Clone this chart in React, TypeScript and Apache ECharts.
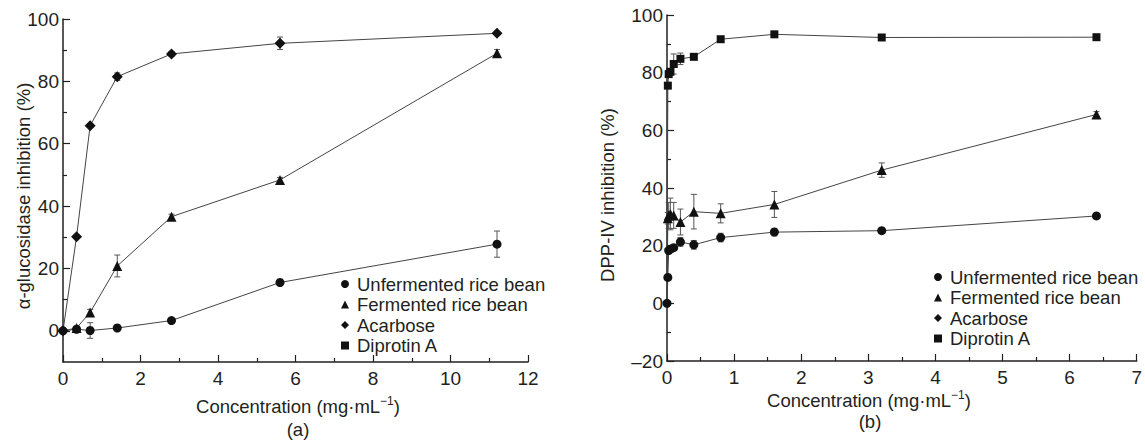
import React, { useEffect, useRef } from 'react';
import * as echarts from 'echarts';

// Panel (a): alpha-glucosidase inhibition
const concA = [0, 0.35, 0.7, 1.4, 2.8, 5.6, 11.2];
const unfermentedA = [0, 0.5, 0.1, 0.9, 3.3, 15.5, 27.8];
const unfermentedAErr = [0, 0, 2.5, 0, 0.8, 0.8, 4.2];
const fermentedA = [0, 0.9, 5.9, 20.8, 36.6, 48.4, 89];
const fermentedAErr = [0, 0, 1, 3.5, 0.8, 0.8, 1.2];
const acarboseA = [0, 30.2, 65.8, 81.5, 88.8, 92.2, 95.4];
const acarboseAErr = [0, 0.5, 0.5, 1.2, 0.8, 2, 0.5];

// Panel (b): DPP-IV inhibition
const concB = [0, 0.0125, 0.025, 0.05, 0.1, 0.2, 0.4, 0.8, 1.6, 3.2, 6.4];
const unfermentedB = [0, 9, 18.3, 18.8, 19.3, 21.3, 20.3, 22.8, 24.7, 25.2, 30.3];
const unfermentedBErr = [0, 0.5, 1, 1, 1, 1.5, 1.5, 1.5, 1.3, 0.5, 0.8];
const fermentedB = [0, 29.5, 30.5, 31, 30.5, 28.2, 31.8, 31.2, 34.3, 46.2, 65.5];
const fermentedBErr = [0, 2, 4.5, 5.5, 4.5, 4.5, 6, 3.3, 4.5, 2.5, 1];
const diprotinB = [0, 75.5, 79.5, 80.3, 83, 84.8, 85.5, 91.6, 93.3, 92.2, 92.3];
const diprotinBErr = [0, 1, 1, 1, 3.5, 2, 1, 0.8, 0.8, 0.6, 0.6];

const legendNames = ['Unfermented rice bean', 'Fermented rice bean', 'Acarbose', 'Diprotin A'];
const legendIcons = ['circle', 'triangle', 'diamond', 'rect'];

const yTicksA = [0, 20, 40, 60, 80, 100];
const yMinorTicksA = [10, 30, 50, 70, 90];

const TXT = '#231f20';
const FONT = '"Liberation Sans", Arial, sans-serif';

const pts = (xs: number[], ys: number[], hideOrigin = false) =>
  xs.map((x, i) => (hideOrigin && i === 0 ? { value: [x, ys[i]], symbol: 'none' } : [x, ys[i]]));
const errPts = (xs: number[], ys: number[], es: number[]) => xs.map((x, i) => [x, ys[i], es[i]]);

const errRender = (params: any, api: any) => {
  const x = api.value(0);
  const y = api.value(1);
  const e = api.value(2);
  if (!e) return null;
  const top = api.coord([x, y + e]);
  const bot = api.coord([x, y - e]);
  const w = 3;
  const st = { stroke: '#555', lineWidth: 1 };
  return {
    type: 'group',
    children: [
      { type: 'line', shape: { x1: top[0], y1: top[1], x2: bot[0], y2: bot[1] }, style: st },
      { type: 'line', shape: { x1: top[0] - w, y1: top[1], x2: top[0] + w, y2: top[1] }, style: st },
      { type: 'line', shape: { x1: bot[0] - w, y1: bot[1], x2: bot[0] + w, y2: bot[1] }, style: st },
    ],
  };
};

const lineSeries = (name: string, symbol: string, size: number, data: any[], xi: number, yi: number) => ({
  type: 'line',
  name,
  xAxisIndex: xi,
  yAxisIndex: yi,
  data,
  symbol,
  symbolSize: size,
  itemStyle: { color: '#111' },
  lineStyle: { color: '#444', width: 1 },
  z: 3,
});

const errSeries = (data: any[], xi: number, yi: number) => ({
  type: 'custom',
  xAxisIndex: xi,
  yAxisIndex: yi,
  data,
  renderItem: errRender,
  encode: { x: 0, y: 1 },
  silent: true,
  z: 2,
});

const axisLine = { show: true, onZero: false, lineStyle: { color: TXT, width: 1.5 } };
const tickStyle = { color: TXT, width: 1.2 };
const fmtNeg = (v: number) => String(v).replace('-', '\u2013');
const TICK_FS = 19;

export default function App() {
  const ref = useRef<HTMLDivElement>(null);
  useEffect(() => {
    if (!ref.current) return;
    const chart = echarts.init(ref.current, undefined, { renderer: 'svg' });
    const legendData = legendNames.map((n, i) => ({ name: n, icon: legendIcons[i], itemStyle: { color: '#111' } }));
    const legendBase = {
      orient: 'vertical',
      itemWidth: 8,
      itemHeight: 8,
      itemGap: 0.5,
      selectedMode: false,
      textStyle: { fontSize: 18.5, color: TXT, fontFamily: FONT, lineHeight: 20, padding: [0, 0, 0, 3] },
      data: legendData,
    };
    const titleStyle = {
      text: '',
      fontSize: 18.5,
      fontFamily: FONT,
      fill: TXT,
      lineHeight: 22,
      align: 'center',
      verticalAlign: 'middle',
      rich: { sup: { fontSize: 12, fontFamily: FONT, fill: TXT, verticalAlign: 'top', lineHeight: 15 } },
    };
    chart.setOption({
      animation: false,
      backgroundColor: '#fff',
      textStyle: { fontFamily: FONT },
      grid: [
        { left: 63, top: 19, width: 465, height: 343 },
        { left: 667, top: 15, width: 471, height: 346 },
      ],
      xAxis: [
        {
          gridIndex: 0, type: 'value', min: 0, max: 12, interval: 2,
          axisLine,
          axisTick: { show: true, inside: true, length: 7, lineStyle: tickStyle },
          minorTick: { show: true, splitNumber: 2, length: 4, lineStyle: tickStyle },
          axisLabel: { fontSize: TICK_FS, color: TXT, margin: 7, fontFamily: FONT },
          splitLine: { show: false },
        },
        {
          gridIndex: 1, type: 'value', min: 0, max: 7, interval: 1,
          axisLine,
          axisTick: { show: true, inside: true, length: 7, lineStyle: tickStyle },
          minorTick: { show: true, splitNumber: 2, length: 4, lineStyle: tickStyle },
          axisLabel: { fontSize: TICK_FS, color: TXT, margin: 7, fontFamily: FONT },
          splitLine: { show: false },
        },
      ],
      yAxis: [
        {
          gridIndex: 0, type: 'value', min: -10, max: 100, position: 'left',
          axisLine,
          axisTick: { show: true, inside: true, length: 7, lineStyle: tickStyle, customValues: yTicksA },
          axisLabel: { fontSize: TICK_FS, color: TXT, margin: 4, fontFamily: FONT, customValues: yTicksA, formatter: fmtNeg },
          splitLine: { show: false },
        },
        {
          gridIndex: 0, type: 'value', min: -10, max: 100, position: 'left', offset: 0,
          axisLine: { show: false, onZero: false },
          axisTick: { show: true, inside: true, length: 4, lineStyle: tickStyle, customValues: yMinorTicksA },
          axisLabel: { show: false },
          splitLine: { show: false },
        },
        {
          gridIndex: 1, type: 'value', min: -20, max: 100, interval: 20, position: 'left',
          axisLine,
          axisTick: { show: true, inside: true, length: 7, lineStyle: tickStyle },
          minorTick: { show: true, splitNumber: 2, length: 4, lineStyle: tickStyle },
          axisLabel: { fontSize: TICK_FS, color: TXT, margin: 4, fontFamily: FONT, formatter: fmtNeg },
          splitLine: { show: false },
        },
      ],
      legend: [
        { ...legendBase, left: 336, top: 269 },
        { ...legendBase, left: 929, top: 262 },
      ],
      series: [
        errSeries(errPts(concA, unfermentedA, unfermentedAErr), 0, 0),
        errSeries(errPts(concA, fermentedA, fermentedAErr), 0, 0),
        errSeries(errPts(concA, acarboseA, acarboseAErr), 0, 0),
        lineSeries('Unfermented rice bean', 'circle', 9, pts(concA, unfermentedA), 0, 0),
        lineSeries('Fermented rice bean', 'triangle', 10, pts(concA, fermentedA, true), 0, 0),
        lineSeries('Acarbose', 'diamond', 11, pts(concA, acarboseA), 0, 0),
        errSeries(errPts(concB, unfermentedB, unfermentedBErr), 1, 2),
        errSeries(errPts(concB, fermentedB, fermentedBErr), 1, 2),
        errSeries(errPts(concB, diprotinB, diprotinBErr), 1, 2),
        lineSeries('Diprotin A', 'rect', 8, pts(concB, diprotinB, true), 1, 2),
        lineSeries('Fermented rice bean', 'triangle', 10, pts(concB, fermentedB, true), 1, 2),
        lineSeries('Unfermented rice bean', 'circle', 9, pts(concB, unfermentedB), 1, 2),
      ],
      graphic: [
        { type: 'text', x: 298, y: 406, style: { ...titleStyle, text: 'Concentration (mg\u00b7mL{sup|\u22121})' } },
        { type: 'text', x: 298, y: 429, style: { ...titleStyle, text: '(a)' } },
        { type: 'text', x: 869, y: 400, style: { ...titleStyle, text: 'Concentration (mg\u00b7mL{sup|\u22121})' } },
        { type: 'text', x: 870, y: 421, style: { ...titleStyle, text: '(b)' } },
        { type: 'text', x: 23, y: 196, rotation: Math.PI / 2, style: { ...titleStyle, text: '\u03b1-glucosidase inhibition (%)' } },
        { type: 'text', x: 607, y: 195, rotation: Math.PI / 2, style: { ...titleStyle, text: 'DPP-IV inhibition (%)' } },
      ],
    });
    return () => chart.dispose();
  }, []);
  return (
    <div
      ref={ref}
      style={{ position: 'fixed', left: 0, top: 0, width: 1145, height: 440, background: '#fff' }}
    />
  );
}
